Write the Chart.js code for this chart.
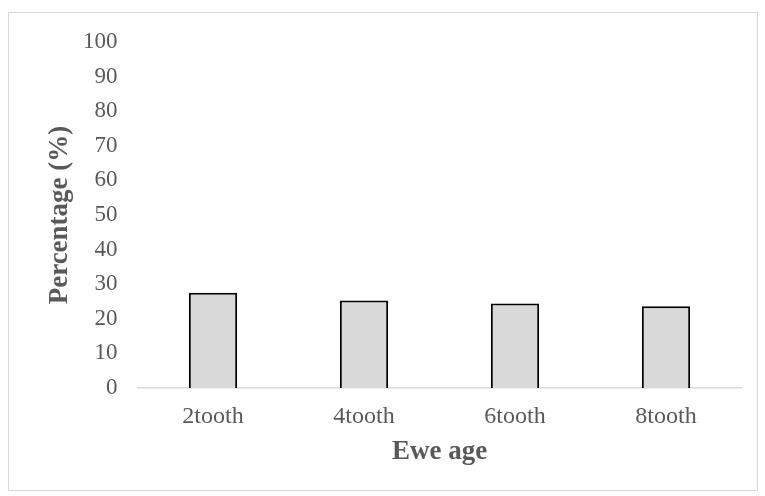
<!DOCTYPE html>
<html>
<head>
<meta charset="utf-8">
<script src="https://cdn.jsdelivr.net/npm/chart.js@4"></script>
<style>
  body { margin: 0; background: #fff; }
  #frame {
    position: absolute; left: 8px; top: 12px;
    width: 750px; height: 479px;
    box-sizing: border-box; border: 1px solid #d9d9d9;
  }
  #frame canvas { display: block; }
</style>
</head>
<body>
<div id="frame"><canvas id="chart" width="748" height="477"></canvas></div>
<script>
// Ewe age vs percentage
const categories = ['2tooth', '4tooth', '6tooth', '8tooth'];
const percentages = [27.5, 25.3, 24.4, 23.6];
const yTicks = [0, 10, 20, 30, 40, 50, 60, 70, 80, 90, 100];

const textColor = '#595959';
const serif = "'Liberation Serif', 'Times New Roman', serif";

const chartConfig = {
    type: 'bar',
    data: {
        labels: categories,
        datasets: [{
            data: percentages,
            backgroundColor: '#d9d9d9',
            borderColor: '#000000',
            borderWidth: 2,
            borderSkipped: 'bottom',
            categoryPercentage: 1,
            barPercentage: 0.32
        }]
    },
    options: {
        responsive: false,
        animation: false,
        layout: { padding: { left: 0, right: 15.5, top: 29, bottom: 22 } },
        plugins: { legend: { display: false }, tooltip: { enabled: false } },
        scales: {
            x: {
                grid: { display: false },
                border: { display: true, color: '#d9d9d9', width: 1.5 },
                ticks: { color: textColor, font: { family: serif, size: 24 }, padding: 6 },
                title: {
                    display: true, text: 'Ewe age', color: textColor,
                    font: { family: serif, size: 27, weight: 'bold' },
                    padding: { top: 4, bottom: 0 }
                },
                afterFit: (scale) => { scale.height = 80; }
            },
            y: {
                min: 0,
                max: 100,
                afterBuildTicks: (scale) => { scale.ticks = yTicks.map(v => ({ value: v })); },
                grid: { display: false },
                border: { display: false },
                ticks: { color: textColor, font: { family: serif, size: 23 }, padding: 12 },
                title: {
                    display: true, text: 'Percentage (%)', color: textColor,
                    font: { family: serif, size: 27, weight: 'bold' },
                    padding: { top: 35, bottom: 0 }
                },
                afterFit: (scale) => { scale.width = 128.5; }
            }
        }
    }
};

const ctx = document.getElementById('chart').getContext('2d');
const chart = new Chart(ctx, chartConfig);
</script>
</body>
</html>
